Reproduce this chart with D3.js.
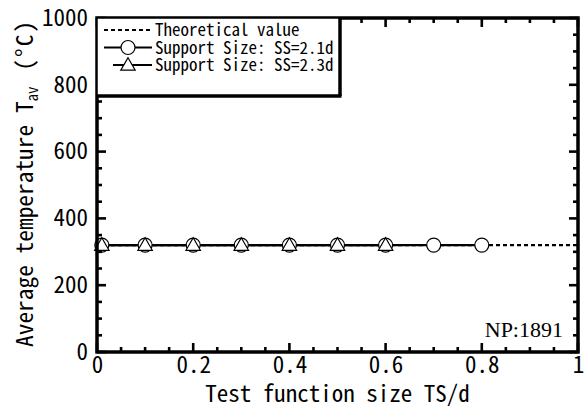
<!DOCTYPE html>
<html>
<head>
<meta charset="utf-8">
<script src="https://cdn.jsdelivr.net/npm/d3@7"></script>
<style>
  html, body { margin: 0; padding: 0; background: #fff; }
  svg { display: block; }
  .jp { font-family: "Noto Sans CJK JP", sans-serif; font-feature-settings: "hwid" 1; }
</style>
</head>
<body>
<svg id="chart" width="588" height="412"></svg>
<script>
// Average temperature vs. test function size
const xTickValues = [0, 0.2, 0.4, 0.6, 0.8, 1];
const xTickLabels = ["0", "0.2", "0.4", "0.6", "0.8", "1"];
const yTickValues = [0, 200, 400, 600, 800, 1000];
const yTickLabels = ["0", "200", "400", "600", "800", "1000"];

const theoryX = [0, 1];
const theoryY = [320, 320];

const ss21X = [0.01, 0.1, 0.2, 0.3, 0.4, 0.5, 0.6, 0.7, 0.8];
const ss21Y = [320, 320, 320, 320, 320, 320, 320, 320, 320];

const ss23X = [0.01, 0.1, 0.2, 0.3, 0.4, 0.5, 0.6];
const ss23Y = [320, 320, 320, 320, 320, 320, 320];

const legendLabels = ["Theoretical value", "Support Size: SS=2.1d", "Support Size: SS=2.3d"];
const noteLabel = "NP:1891";

const svg = d3.select("#chart");
const W = 588, H = 412;
const mLeft = 97, mRight = 578, mTop = 18, mBottom = 352;

svg.append("rect").attr("width", W).attr("height", H).attr("fill", "#fff");

const x = d3.scaleLinear().domain([0, 1]).range([mLeft, mRight]);
const y = d3.scaleLinear().domain([0, 1000]).range([mBottom, mTop]);

const zip = (xs, ys) => xs.map((v, i) => [v, ys[i]]);
const line = d3.line().x(d => x(d[0])).y(d => y(d[1]));

// data lines
svg.append("path").datum(zip(theoryX, theoryY)).attr("d", line)
  .attr("fill", "none").attr("stroke", "#000").attr("stroke-width", 2.2)
  .attr("stroke-dasharray", "4,3");
svg.append("path").datum(zip(ss21X, ss21Y)).attr("d", line)
  .attr("fill", "none").attr("stroke", "#000").attr("stroke-width", 2.2);
svg.append("path").datum(zip(ss23X, ss23Y)).attr("d", line)
  .attr("fill", "none").attr("stroke", "#000").attr("stroke-width", 2.2);

const triPath = d3.symbol().type(d3.symbolTriangle).size(90)();

svg.append("g").selectAll("circle").data(zip(ss21X, ss21Y)).join("circle")
  .attr("cx", d => x(d[0])).attr("cy", d => y(d[1])).attr("r", 7)
  .attr("fill", "#fff").attr("stroke", "#000").attr("stroke-width", 1.2);
svg.append("g").selectAll("path").data(zip(ss23X, ss23Y)).join("path")
  .attr("d", triPath)
  .attr("transform", d => `translate(${x(d[0])},${y(d[1]) + 1})`)
  .attr("fill", "#fff").attr("stroke", "#000").attr("stroke-width", 1.2);

// inward ticks on all four sides
const tickG = svg.append("g").attr("stroke", "#000").attr("stroke-width", 2.6);
const xMinor = d3.range(0, 1.0001, 0.05);
const yMinor = d3.range(0, 1000.1, 50);
const isMajorX = v => Math.abs(v * 5 - Math.round(v * 5)) < 1e-6;
const isMajorY = v => Math.abs(v / 200 - Math.round(v / 200)) < 1e-6;
xMinor.forEach(v => {
  const L = isMajorX(v) ? 9 : 5;
  tickG.append("line").attr("x1", x(v)).attr("x2", x(v)).attr("y1", mBottom).attr("y2", mBottom - L);
  tickG.append("line").attr("x1", x(v)).attr("x2", x(v)).attr("y1", mTop).attr("y2", mTop + L);
});
yMinor.forEach(v => {
  const L = isMajorY(v) ? 9 : 5;
  tickG.append("line").attr("y1", y(v)).attr("y2", y(v)).attr("x1", mLeft).attr("x2", mLeft + L);
  tickG.append("line").attr("y1", y(v)).attr("y2", y(v)).attr("x1", mRight).attr("x2", mRight - L);
});

// frame
svg.append("rect").attr("x", mLeft).attr("y", mTop)
  .attr("width", mRight - mLeft).attr("height", mBottom - mTop)
  .attr("fill", "none").attr("stroke", "#000").attr("stroke-width", 3.5);

// tick labels
const xAxis = d3.axisBottom(x).tickValues(xTickValues)
  .tickFormat((d, i) => xTickLabels[i]).tickSize(0).tickPadding(4);
const gx = svg.append("g").attr("transform", `translate(0,${mBottom})`).call(xAxis);
gx.select(".domain").remove();
gx.attr("font-family", null).attr("font-size", null);
gx.selectAll("text").attr("class", "jp").attr("font-size", 23).attr("fill", "#000")
  .attr("dy", "0.72em");

const yAxis = d3.axisLeft(y).tickValues(yTickValues)
  .tickFormat((d, i) => yTickLabels[i]).tickSize(0).tickPadding(9);
const gy = svg.append("g").attr("transform", `translate(${mLeft},0)`).call(yAxis);
gy.select(".domain").remove();
gy.attr("font-family", null).attr("font-size", null);
gy.selectAll("text").attr("class", "jp").attr("font-size", 23).attr("fill", "#000");

// axis titles
svg.append("text").attr("class", "jp").attr("x", (mLeft + mRight) / 2).attr("y", 402)
  .attr("text-anchor", "middle").attr("font-size", 23).text("Test function size TS/d");

const yt = svg.append("text").attr("class", "jp")
  .attr("transform", `translate(33,347) rotate(-90)`)
  .attr("text-anchor", "start").attr("font-size", 23.4);
yt.append("tspan").text("Average temperature T");
yt.append("tspan").attr("font-size", 15).attr("dy", 5).text("av");
yt.append("tspan").attr("dy", -5).attr("dx", 2).attr("letter-spacing", 2).text(" (°C)");

// note
svg.append("text").attr("x", 563).attr("y", 337).attr("text-anchor", "end")
  .attr("font-family", "'Liberation Serif', serif").attr("font-size", 22)
  .text(noteLabel);

// legend
const lgR = 340, lgB = 96;
svg.append("rect").attr("x", mLeft).attr("y", mTop).attr("width", lgR - mLeft).attr("height", lgB - mTop)
  .attr("fill", "#fff").attr("stroke", "#000").attr("stroke-width", 1.5);
svg.append("line").attr("x1", mLeft).attr("x2", lgR + 1.5).attr("y1", lgB).attr("y2", lgB)
  .attr("stroke", "#000").attr("stroke-width", 3.5);
svg.append("line").attr("x1", lgR).attr("x2", lgR).attr("y1", mTop).attr("y2", lgB)
  .attr("stroke", "#000").attr("stroke-width", 3.5);

const rows = [30, 47.5, 65];
const lx1 = 104, lx2 = 152, lmid = 128, ltx = 155;
svg.append("line").attr("x1", lx1).attr("x2", lx2).attr("y1", rows[0]).attr("y2", rows[0])
  .attr("stroke", "#000").attr("stroke-width", 2.2).attr("stroke-dasharray", "4,3");
svg.append("line").attr("x1", lx1).attr("x2", lx2).attr("y1", rows[1]).attr("y2", rows[1])
  .attr("stroke", "#000").attr("stroke-width", 2.2);
svg.append("circle").attr("cx", lmid).attr("cy", rows[1]).attr("r", 7)
  .attr("fill", "#fff").attr("stroke", "#000").attr("stroke-width", 1.2);
svg.append("line").attr("x1", lx1 + 9).attr("x2", lx2).attr("y1", rows[2]).attr("y2", rows[2])
  .attr("stroke", "#000").attr("stroke-width", 2.2);
svg.append("path").attr("d", triPath).attr("transform", `translate(${lmid},${rows[2] + 1})`)
  .attr("fill", "#fff").attr("stroke", "#000").attr("stroke-width", 1.2);

svg.append("g").selectAll("text").data(legendLabels).join("text")
  .attr("class", "jp").attr("x", ltx).attr("y", (d, i) => rows[i]).attr("dy", "0.36em")
  .attr("font-size", 17).text(d => d);
</script>
</body>
</html>
